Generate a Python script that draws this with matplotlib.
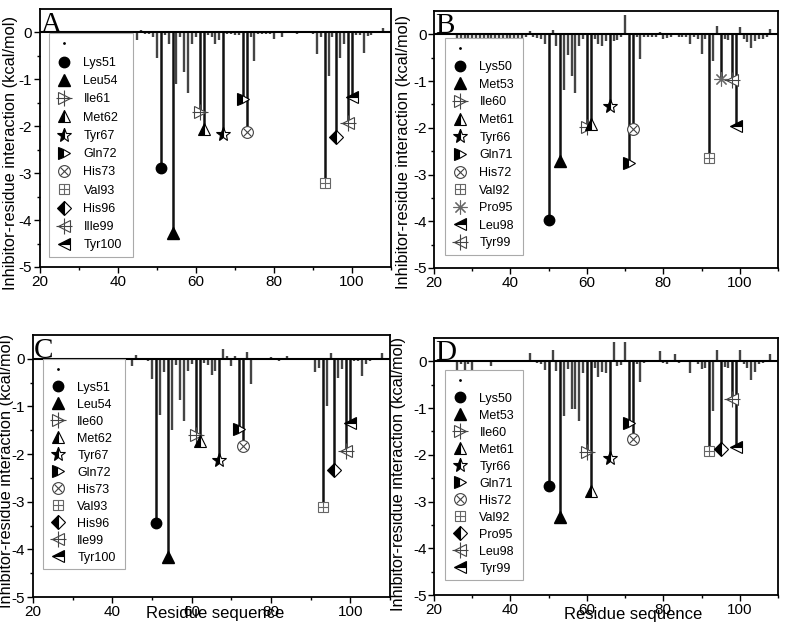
import matplotlib
matplotlib.use("Agg")
import matplotlib.pyplot as plt
from matplotlib.lines import Line2D

plt.rcParams['font.family'] = ['Liberation Sans', 'DejaVu Sans']
plt.rcParams['axes.unicode_minus'] = False

# residue numbers on the x axis
residues = list(range(26, 109))

# per-residue interaction energies (kcal/mol), residues 26..108
vals_a = [0, 0, 0, 0, 0, 0, 0, 0, 0, 0,
          0, 0, 0, 0, 0, 0, 0, 0, 0, -0.15,
          0.06, -0.03, -0.03, -0.10, -0.55, -2.90, -0.05, -0.25, -4.28, -1.10,
          -0.10, -0.85, -1.30, -0.25, -0.10, -1.70, -2.05, -0.05, -0.10, -0.25,
          -0.15, -2.16, -0.03, -0.03, -0.05, -0.05, -1.42, -2.12, -0.10, -0.60,
          -0.03, -0.03, -0.03, -0.03, -0.13, -0.02, -0.10, -0.02, 0.03, 0.02,
          -0.03, -0.02, -0.02, -0.02, -0.03, -0.45, -0.10, -3.20, -0.93, -0.10,
          -2.22, -0.55, -0.25, -1.94, -1.37, -0.05, -0.05, -0.43, -0.08, -0.05,
          -0.02, -0.02, 0.10]
vals_b = [-0.10, -0.08, -0.12, -0.08, -0.10, -0.12, -0.08, -0.10, -0.08, -0.12,
          -0.10, -0.08, -0.10, -0.12, -0.08, -0.10, -0.08, -0.10, -0.05, 0.08,
          -0.05, -0.08, -0.10, -0.20, -3.97, 0.10, -0.25, -2.72, -1.20, -0.45,
          -0.90, -1.25, -0.25, -0.10, -1.99, -1.92, -0.10, -0.20, -0.25, -0.15,
          -1.54, -0.15, -0.12, -0.05, 0.42, -2.76, -2.03, -0.05, -0.53, -0.05,
          -0.05, -0.05, -0.05, 0.05, -0.10, -0.08, -0.05, 0.03, -0.05, -0.05,
          -0.05, -0.20, -0.05, -0.10, -0.43, -0.10, -2.64, -0.58, 0.17, -0.95,
          -0.10, -0.12, -0.98, -1.97, 0.15, -0.10, -0.16, -0.29, -0.15, -0.10,
          -0.10, -0.05, 0.12]
vals_c = [0, 0, 0, 0, 0, 0, 0, 0, 0, 0,
          0, 0, 0, 0, 0, 0, 0, 0, 0, -0.16,
          0.07, -0.02, -0.02, -0.05, -0.42, -3.45, -1.17, -0.27, -4.15, -1.50,
          -0.13, -0.86, -1.30, -0.25, -0.10, -1.60, -1.72, -0.08, -0.12, -0.34,
          -0.25, -2.13, 0.20, 0.05, -0.16, 0.05, -1.47, -1.82, 0.15, -0.52,
          -0.02, -0.02, -0.02, -0.02, 0.03, -0.02, -0.05, -0.02, 0.05, -0.02,
          -0.03, -0.02, -0.02, -0.02, -0.02, -0.27, -0.20, -3.12, -1.00, 0.12,
          -2.33, -0.40, -0.22, -1.93, -1.35, -0.05, -0.05, -0.35, -0.10, -0.05,
          -0.02, -0.02, 0.12]
vals_d = [-0.20, -0.05, -0.20, -0.05, -0.20, -0.02, -0.02, -0.02, -0.02, -0.10,
          -0.02, -0.02, -0.02, -0.02, -0.02, -0.02, -0.02, -0.02, -0.02, 0.18,
          -0.02, -0.03, -0.05, -0.18, -2.66, 0.24, -0.20, -3.33, -1.17, -0.17,
          -1.02, -1.02, -1.28, -0.25, -1.93, -2.78, -0.15, -0.34, -0.22, -0.25,
          -2.07, 0.42, -0.10, -0.08, 0.42, -1.32, -1.67, -0.05, -0.45, -0.03,
          -0.02, -0.02, -0.02, 0.22, -0.03, -0.05, -0.02, 0.15, -0.03, -0.02,
          -0.02, -0.25, -0.02, -0.05, -0.17, -0.15, -1.91, -1.07, 0.25, -1.87,
          -0.12, -0.15, -0.80, -1.83, 0.25, -0.05, -0.15, -0.39, -0.22, -0.05,
          -0.03, -0.02, 0.15]

# key residues marked with symbols
key_a = [51, 54, 61, 62, 67, 72, 73, 93, 96, 99, 100]
lab_a = ['Lys51', 'Leu54', 'Ile61', 'Met62', 'Tyr67', 'Gln72', 'His73', 'Val93', 'His96', 'IIle99', 'Tyr100']
key_b = [50, 53, 60, 61, 66, 71, 72, 92, 95, 98, 99]
lab_b = ['Lys50', 'Met53', 'Ile60', 'Met61', 'Tyr66', 'Gln71', 'His72', 'Val92', 'Pro95', 'Leu98', 'Tyr99']
key_c = [51, 54, 61, 62, 67, 72, 73, 93, 96, 99, 100]
lab_c = ['Lys51', 'Leu54', 'Ile60', 'Met62', 'Tyr67', 'Gln72', 'His73', 'Val93', 'His96', 'Ile99', 'Tyr100']
key_d = [50, 53, 60, 61, 66, 71, 72, 92, 95, 98, 99]
lab_d = ['Lys50', 'Met53', 'Ile60', 'Met61', 'Tyr66', 'Gln71', 'His72', 'Val92', 'Pro95', 'Leu98', 'Tyr99']

sty_std = ['fo', 'f^', '>+', 'h^', 'h*', 'h>', 'ox', 's+', 'hD', '<+', 'h<']
sty_b = ['fo', 'f^', '>+', 'h^', 'h*', 'h>', 'ox', 's+', 'ast', '<+', 'h<']
leg_b = ['fo', 'f^', '>+', 'h^', 'h*', 'h>', 'ox', 's+', 'ast', 'h<', '<+']


def parts(s):
    g = '#444444'
    half = dict(mfc='k', markerfacecoloralt='w', mec='k', mew=0.8)
    if s == 'fo':
        return [dict(marker='o', mfc='k', mec='k', ms=7.5)]
    if s == 'f^':
        return [dict(marker='^', mfc='k', mec='k', ms=9)]
    if s == '>+':
        return [dict(marker='>', mfc='w', mec=g, ms=8, mew=0.8), dict(marker='+', mec=g, ms=11, mew=0.8)]
    if s == '<+':
        return [dict(marker='<', mfc='w', mec=g, ms=8, mew=0.8), dict(marker='+', mec=g, ms=11, mew=0.8)]
    if s == 'h^':
        return [dict(marker='^', fillstyle='left', ms=9, **half)]
    if s == 'h*':
        return [dict(marker='*', fillstyle='left', ms=10, **half)]
    if s == 'h>':
        return [dict(marker='>', fillstyle='left', ms=9, **half)]
    if s == 'h<':
        return [dict(marker='<', fillstyle='top', ms=9, **half)]
    if s == 'hD':
        return [dict(marker='D', fillstyle='left', ms=7.5, **half)]
    if s == 'ox':
        return [dict(marker='o', mfc='w', mec=g, ms=8.5, mew=0.8), dict(marker='x', mec=g, ms=6, mew=0.8)]
    if s == 's+':
        return [dict(marker='s', mfc='w', mec='#666666', ms=7.5, mew=0.8), dict(marker='+', mec='#666666', ms=7.5, mew=0.8)]
    if s == 'ast':
        return [dict(marker=(8, 2, 0), mec='#666666', ms=10, mew=0.8)]


def panel(pos, ylab_xy, letter, vals, keys, labels, styles, leg_styles, legbox, lsp, xlab=None):
    ax = fig.add_axes(pos)
    keyset = set(keys)
    other = [r for r in residues if r not in keyset]
    ax.vlines(other, 0, [vals[r - 26] for r in other], colors='#444444', lw=1.7, zorder=2)
    kv = [vals[r - 26] for r in keys]
    ax.vlines(keys, 0, kv, colors='#111111', lw=1.8, zorder=3)
    ax.axhline(0, color='k', lw=1.5, zorder=4)
    for r, v, s in zip(keys, kv, styles):
        for p in parts(s):
            ax.plot([r], [v], ls='none', zorder=5, **p)
    handles = [Line2D([], [], ls='none', marker='.', ms=2, color='k')]
    for s in leg_styles:
        handles.append(tuple(Line2D([], [], ls='none', **p) for p in parts(s)))
    x0, y0, x1, y1 = legbox
    leg = ax.legend(handles, [''] + labels, loc='upper left',
                    bbox_to_anchor=(x0, y0, x1 - x0, y1 - y0), mode='expand',
                    borderaxespad=0, fontsize=9, labelspacing=lsp,
                    handlelength=1.45, handletextpad=0.85, borderpad=0.45,
                    fancybox=False, framealpha=1, edgecolor='#aaaaaa')
    leg.get_frame().set_linewidth(0.8)
    leg.set_zorder(6)
    ax.set_xlim(20, 110)
    ax.set_ylim(-5, 0.5)
    ax.set_xticks([20, 40, 60, 80, 100])
    ax.set_xticks([30, 50, 70, 90, 110], minor=True)
    ax.set_yticks([-5, -4, -3, -2, -1, 0])
    ax.set_yticks([-4.5, -3.5, -2.5, -1.5, -0.5], minor=True)
    ax.tick_params(labelsize=11, length=4, width=1, pad=1.5, direction='out')
    ax.tick_params(which='minor', length=2, width=1)
    for sp in ax.spines.values():
        sp.set_linewidth(1.3)
    ax.text(20.3, 0.02, letter, family='Liberation Serif', fontsize=21, va='baseline', ha='left')
    ax.set_ylabel('Inhibitor-residue interaction (kcal/mol)', fontsize=11.8)
    ax.yaxis.set_label_coords(ylab_xy[0], ylab_xy[1])
    if xlab:
        ax.set_xlabel('Residue sequence', fontsize=12)
        ax.xaxis.set_label_coords(xlab[0], xlab[1])
    return ax


fig = plt.figure(figsize=(7.87, 6.27), dpi=100)
panel([0.0508, 0.5742, 0.4460, 0.4114], (-0.063, 0.44), 'A', vals_a, key_a, lab_a, sty_std, sty_std,
      (0.026, 0.016, 0.265, 0.907), 0.5)
panel([0.5515, 0.5726, 0.4371, 0.4099], (-0.068, 0.45), 'B', vals_b, key_b, lab_b, sty_b, leg_b,
      (0.032, 0.05, 0.259, 0.895), 0.45)
panel([0.0419, 0.0478, 0.4537, 0.4179], (-0.053, 0.48), 'C', vals_c, key_c, lab_c, sty_std, sty_std,
      (0.028, 0.076, 0.258, 0.908), 0.4, xlab=(0.51, -0.036))
panel([0.5515, 0.0510, 0.4371, 0.4099], (-0.081, 0.47), 'D', vals_d, key_d, lab_d, sty_std, sty_std,
      (0.032, 0.047, 0.259, 0.875), 0.4, xlab=(0.58, -0.045))

fig.savefig('out.png', dpi=100)
